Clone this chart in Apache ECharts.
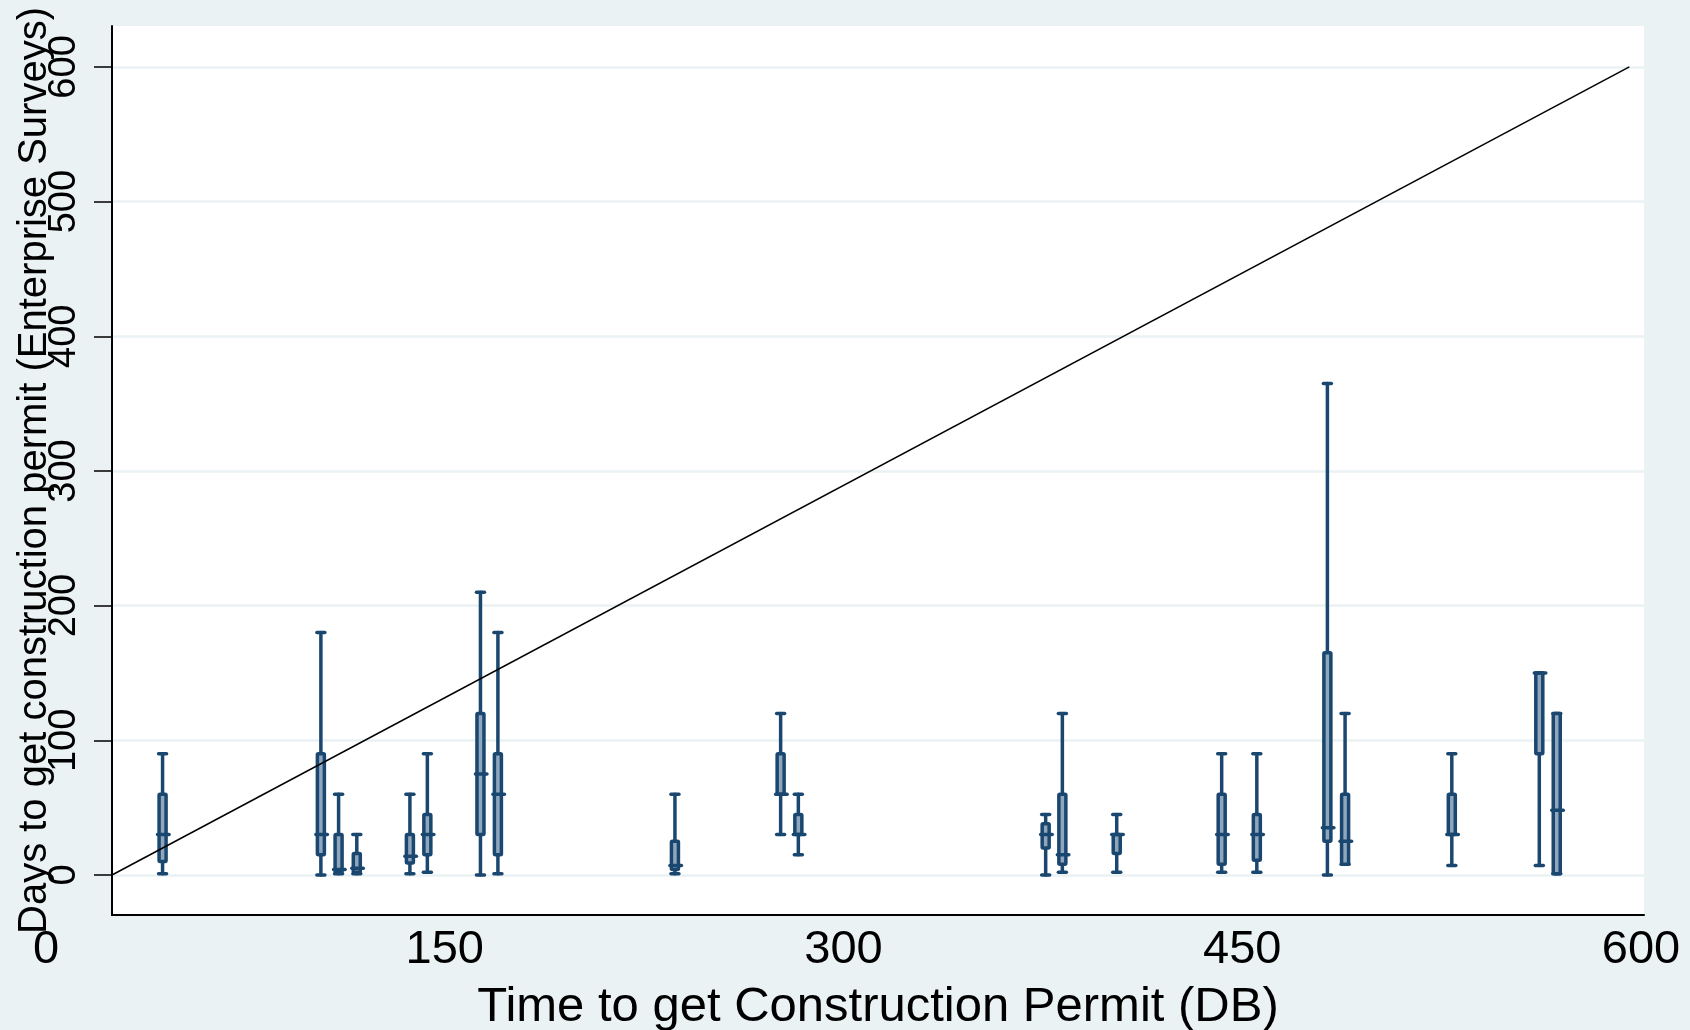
<!DOCTYPE html>
<html>
<head>
<meta charset="utf-8">
<title>Days to get construction permit</title>
<script src="https://cdn.jsdelivr.net/npm/echarts@6/dist/echarts.min.js"></script>
<style>
  html, body { margin: 0; padding: 0; background: #eaf2f3; }
  #chart { width: 1690px; height: 1030px; }
</style>
</head>
<body>
<div id="chart"></div>
<script>
// one box per country: x = DB days, box = ES days (min, q1, median, q3, max)
var boxX   = [20.0, 82.6, 89.6, 96.8, 117.8, 124.7, 145.7, 152.6, 222.6, 264.4, 271.4,
              369.2, 375.8, 397.3, 438.8, 452.7, 480.6, 487.6, 529.8, 564.4, 571.3];
var boxMin = [1, 0, 1, 1, 1, 2, 0, 1, 1, 30, 15, 0, 2, 2, 2, 2, 0, 8, 7, 7, 1];
var boxQ1  = [10, 15, 2, 2, 9, 15, 30, 15, 4, 60, 30, 20, 8, 16, 8, 11, 25, 8, 30, 90, 1];
var boxMed = [30, 30, 4, 5, 14, 30, 75, 60, 7, 60, 30, 30, 15, 30, 30, 30, 35, 25, 30, 150, 48];
var boxQ3  = [60, 90, 30, 16, 30, 45, 120, 90, 25, 90, 45, 38, 60, 30, 60, 45, 165, 60, 60, 150, 120];
var boxMax = [90, 180, 60, 30, 60, 90, 210, 180, 60, 120, 60, 45, 120, 45, 90, 90, 365, 120, 90, 150, 120];

// 45 degree reference line
var lineX = [0, 600];
var lineY = [0, 600];

var yTicks = [0, 100, 200, 300, 400, 500, 600];

var navy = '#1a476f';
var boxFill = '#8fa6bd';
var font = 'Liberation Sans, Arial, sans-serif';

var boxData = boxX.map(function (x, i) {
    return [x, boxMin[i], boxQ1[i], boxMed[i], boxQ3[i], boxMax[i]];
});

function renderBox(params, api) {
    var x = api.value(0);
    var pMin = api.coord([x, api.value(1)]);
    var pQ1 = api.coord([x, api.value(2)]);
    var pMed = api.coord([x, api.value(3)]);
    var pQ3 = api.coord([x, api.value(4)]);
    var pMax = api.coord([x, api.value(5)]);
    var cx = pMin[0];
    var lineStyle = { stroke: navy, lineWidth: 3.5, lineCap: 'round' };
    return {
        type: 'group',
        children: [
            { type: 'line', shape: { x1: cx, y1: pMax[1], x2: cx, y2: pMin[1] }, style: lineStyle },
            { type: 'line', shape: { x1: cx - 4, y1: pMax[1], x2: cx + 4, y2: pMax[1] }, style: lineStyle },
            { type: 'line', shape: { x1: cx - 4, y1: pMin[1], x2: cx + 4, y2: pMin[1] }, style: lineStyle },
            { type: 'rect', shape: { x: cx - 3.5, y: pQ3[1], width: 7, height: pQ1[1] - pQ3[1], r: 1 },
              style: { fill: boxFill, stroke: navy, lineWidth: 3.5 } },
            { type: 'line', shape: { x1: cx - 5, y1: pMed[1], x2: cx + 6.5, y2: pMed[1] }, style: lineStyle }
        ]
    };
}

var myChart = echarts.init(document.getElementById('chart'));

var option = {
    backgroundColor: '#eaf2f3',
    animation: false,
    grid: [
        { left: 112, top: 26, right: 46, bottom: 115, show: true, backgroundColor: '#fff',
          borderWidth: 0, outerBoundsMode: 'none' },
        // only carries the x tick labels, which sit on a wider scale than the plot
        { left: 46, top: 26, right: 49, bottom: 115, show: false, outerBoundsMode: 'none' }
    ],
    xAxis: [
        {
            type: 'value', gridIndex: 0, min: 0, max: 605.8, position: 'bottom',
            axisLine: { show: true, onZero: false, lineStyle: { color: '#000', width: 2 } },
            axisTick: { show: false },
            axisLabel: { show: false },
            splitLine: { show: false },
            name: 'Time to get Construction Permit (DB)',
            nameLocation: 'middle',
            nameGap: 68,
            nameMoveOverlap: false,
            nameTextStyle: { fontSize: 49, color: '#000', fontFamily: font }
        },
        {
            type: 'value', gridIndex: 1, min: 0, max: 600, interval: 150, position: 'bottom',
            axisLine: { show: false },
            axisTick: { show: false },
            axisLabel: { fontSize: 47, margin: 12, color: '#000', fontFamily: font },
            splitLine: { show: false }
        }
    ],
    yAxis: [
        {
            type: 'value', gridIndex: 0, min: -29.7, max: 630.4,
            axisLine: { show: true, onZero: false, lineStyle: { color: '#000', width: 2 } },
            axisTick: { show: true, length: 18, customValues: yTicks,
                        lineStyle: { color: '#000', width: 1.5 } },
            axisLabel: { customValues: yTicks, rotate: 90, margin: 28, fontSize: 38,
                         align: 'center', verticalAlign: 'bottom', color: '#000', fontFamily: font },
            splitLine: { show: true, lineStyle: { color: '#eaf2f3', width: 2.5 } },
            name: 'Days to get construction permit (Enterprise Surveys)',
            nameLocation: 'middle',
            nameGap: 57,
            nameMoveOverlap: false,
            nameTextStyle: { fontSize: 40, color: '#000', fontFamily: font }
        },
        { type: 'value', gridIndex: 1, min: 0, max: 1, show: false }
    ],
    series: [
        {
            type: 'custom',
            xAxisIndex: 0, yAxisIndex: 0,
            renderItem: renderBox,
            encode: { x: 0, y: [1, 2, 3, 4, 5] },
            data: boxData,
            z: 2
        },
        {
            type: 'line',
            xAxisIndex: 0, yAxisIndex: 0,
            data: lineX.map(function (x, i) { return [x, lineY[i]]; }),
            symbol: 'none',
            lineStyle: { color: '#000', width: 1.5 },
            z: 3
        }
    ]
};

myChart.setOption(option);
</script>
</body>
</html>
